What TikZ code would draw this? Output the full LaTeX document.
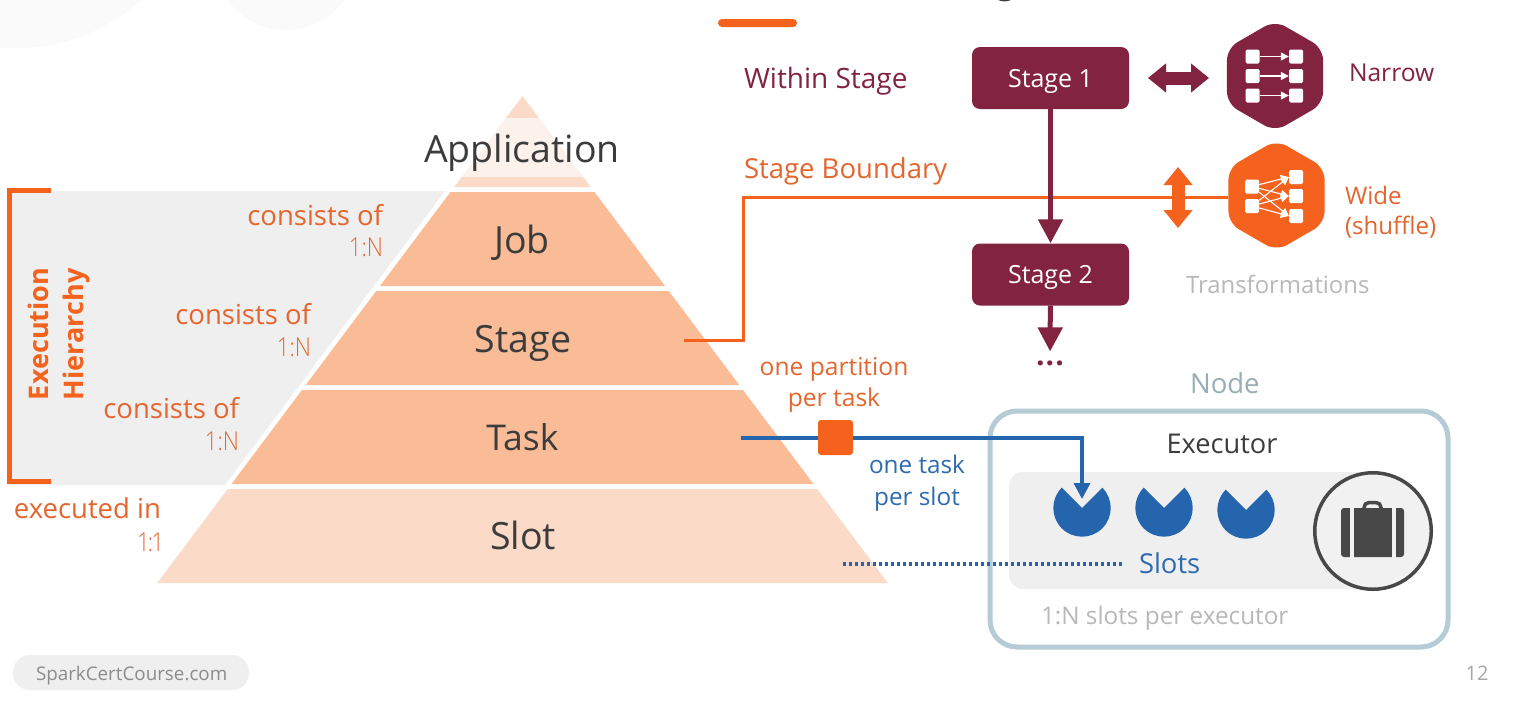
\documentclass[tikz,border=0pt]{standalone}
\usepackage{fontspec}
\setmainfont{Open Sans}
\newfontfamily\lightfont{Open Sans Light}[FakeStretch=0.86]
\usetikzlibrary{arrows.meta,shapes.geometric,calc}
\definecolor{wine}{HTML}{82233F}
\definecolor{orng}{HTML}{F4621E}
\definecolor{orngtxt}{HTML}{E4662E}
\definecolor{blu}{HTML}{2565AE}
\definecolor{blutxt}{HTML}{2E6BB0}
\definecolor{peach}{HTML}{F9BC97}
\definecolor{lpeach}{HTML}{FBDAC8}
\definecolor{apppeach}{HTML}{FDF1EB}
\definecolor{panel}{HTML}{EFEFEF}
\definecolor{ink}{HTML}{3C3C3C}
\definecolor{bagink}{HTML}{484848}
\definecolor{bagfill}{HTML}{F1F1F1}
\definecolor{nodeedge}{HTML}{B5CBD5}
\definecolor{faded}{HTML}{B8B8B8}
\newcommand{\fz}[1]{\fontsize{#1}{#1}\selectfont}
\newcommand{\pacman}[2]{\fill[blu] (#1,#2) -- +(20.3,-20.3) arc[start angle=45,end angle=-225,radius=28.7pt] -- cycle;}
\newcommand{\layer}[3]{\fill[#3] ({522.5-0.75*(#1-96)},#1) -- ({522.5+0.75*(#1-96)},#1) -- ({522.5+0.75*(#2-96)},#2) -- ({522.5-0.75*(#2-96)},#2) -- cycle;}
\tikzset{
  txt/.style={inner sep=0pt,outer sep=0pt},
  lbl/.style={txt,anchor=base east,text=orngtxt,font=\fz{27.5}},
  ratio/.style={txt,anchor=base east,text=orngtxt,font=\lightfont\fz{26}},
  pyr/.style={txt,anchor=base,text=ink,font=\fz{37.5}},
  stagebox/.style={draw=none,fill=wine,rounded corners=8pt,minimum width=157pt,minimum height=62pt,text=white,font=\fz{25},inner sep=0pt,text height=18pt,text depth=0pt},
  hexa/.style={regular polygon,regular polygon sides=6,shape border rotate=30,minimum size=111pt,inner sep=0pt,rounded corners=12pt,draw=none},
  sq/.style={fill=white,rounded corners=1.5pt,minimum size=14pt,inner sep=0pt,draw=none},
  warrow/.style={white,line width=1.4pt,-{Triangle[length=8pt,width=8pt]}},
  winearrow/.style={wine,line width=5pt,-{Triangle[length=24pt,width=24pt]}},
  fat/.style={line width=13pt,{Triangle[length=18pt,width=28pt]}-{Triangle[length=18pt,width=28pt]}},
}
\begin{document}
\begin{tikzpicture}[x=1pt,y=-1pt]
\useasboundingbox (0,0) rectangle (1522,707);
\clip (0,0) rectangle (1522,707);
\fill[white] (0,0) rectangle (1522,707);
% faint background discs and title remains
\fill[black!2] (17,-136) circle[radius=184pt];
\fill[black!2] (286,-41) circle[radius=71pt];
\fill[ink] (998,0) .. controls (1002,1.8) and (1007,1.8) .. (1011,0) -- cycle;
\fill[orng] (718,19) [rounded corners=4pt] rectangle (797,27);
% execution panel
\fill[panel] (8,191) -- (445,191) -- (225,485) -- (8,485) -- cycle;
\draw[orng,line width=5pt] (51,190.5) -- (9.5,190.5) -- (9.5,481) -- (51,481);
% pyramid
\layer{96}{118}{lpeach}
\layer{118}{177}{apppeach}
\layer{177}{187}{lpeach}
\layer{192}{286}{peach}
\layer{291}{385}{peach}
\layer{390}{484}{peach}
\layer{489}{583}{lpeach}
\node[pyr] (app) at (522,162) {Application};
\node[pyr] (job) at (522,253) {Job};
\node[pyr] (stage) at (523,352) {Stage};
\node[pyr,font=\fz{35.5}] (task) at (522.5,450) {Task};
\node[pyr] (slot) at (523,549) {Slot};
% side labels
\node[lbl] (c1) at (383,225) {consists of};
\node[ratio] (r1) at (383,256) {1:N};
\node[lbl] (c2) at (311,324) {consists of};
\node[ratio] (r2) at (311,356) {1:N};
\node[lbl] (c3) at (239,418) {consists of};
\node[ratio] (r3) at (239,450) {1:N};
\node[lbl] (c4) at (161,518) {executed in};
\node[ratio] (r4) at (164,551) {1\kern-2pt:\kern-2pt1};
\node[txt,rotate=90,anchor=base west,text=orng,font=\bfseries\fz{27}] (ex) at (48,400) {Execution};
\node[txt,rotate=90,anchor=base west,text=orng,font=\bfseries\fz{27}] (hi) at (83,400) {Hierarchy};
% stage boundary connector
\node[hexa,fill=orng] (wideh) at (1276.5,195.5) {};
\coordinate (sbstart) at (684,340);
\coordinate (sbcorner) at (743,197);
\draw[orng,line width=3pt] (sbstart) -| (sbcorner) -- (wideh.west |- sbcorner);
% stages
\node[stagebox] (s1) at (1050.5,78) {Stage 1};
\node[stagebox] (s2) at (1050.5,274.5) {Stage 2};
\node[txt,anchor=base,text=wine,font=\bfseries\fz{30}] (dots) at (1050,365) {.\kern1pt.\kern1pt.};
\draw[winearrow] (s1) -- (s2);
\draw[winearrow,shorten >=9pt] (s2) -- (dots);
\node[txt,anchor=base west,text=wine,font=\fz{28}] (within) at (744,88) {Within Stage};
\node[txt,anchor=base west,text=orngtxt,font=\fz{27.5}] (sbl) at (744,178) {Stage Boundary};
% narrow
\node[hexa,fill=wine] (narrowh) at (1275,76) {};
\coordinate (naL) at (1148,78);
\coordinate (naR) at (1209,78);
\draw[fat,wine] (naL) -- (naR);
\node[sq] (nl1) at (1252.5,56.5) {};
\node[sq] (nl2) at (1252.5,76) {};
\node[sq] (nl3) at (1252.5,95.5) {};
\node[sq] (nr1) at (1296,56.5) {};
\node[sq] (nr2) at (1296,76) {};
\node[sq] (nr3) at (1296,95.5) {};
\draw[warrow] (nl1) -- (nr1.west);
\draw[warrow] (nl2) -- (nr2.west);
\draw[warrow] (nl3) -- (nr3.west);
\node[txt,anchor=base west,text=wine,font=\fz{24.6}] (narrow) at (1349,81) {Narrow};
% wide
\coordinate (waT) at (1178,167);
\coordinate (waB) at (1178,228);
\draw[fat,orng] (waT) -- (waB);
\node[sq] (wl1) at (1252,186.5) {};
\node[sq] (wl2) at (1252,206) {};
\node[sq] (wr1) at (1296,177) {};
\node[sq] (wr2) at (1296,196) {};
\node[sq] (wr3) at (1296,216) {};
\foreach \a in {wl1,wl2}\foreach \b in {wr1,wr2,wr3}{\draw[warrow,line width=1.1pt] (\a) -- (\b.west);}
\node[txt,anchor=base west,text=orngtxt,font=\fz{24.1}] (wide) at (1345,204) {Wide};
\node[txt,anchor=base west,text=orngtxt,font=\fz{24.1}] (shuf) at (1345,234) {(shuffle)};
\node[txt,anchor=base west,text=faded,font=\fz{23.9}] (trans) at (1186,293) {Transformations};
% node box
\node[txt,anchor=base west,text=nodeedge!85!black,font=\fz{27.5}] (nodel) at (1190,393) {Node};
\draw[nodeedge,line width=5pt,rounded corners=27pt] (990,411) rectangle (1448,647);
\node[txt,anchor=base,text=ink,font=\fz{27.2}] (exec) at (1222,453) {Executor};
\fill[panel,rounded corners=14pt] (1009,472) rectangle (1390,589);
\node[circle,draw=bagink,line width=3.5pt,fill=bagfill,minimum size=116.5pt,inner sep=0pt] (bag) at (1373,531) {};
\fill[bagink,rounded corners=3pt] (1341,508) rectangle (1404,557);
\fill[bagfill] (1350,505) rectangle (1354,560);
\fill[bagfill] (1392,505) rectangle (1396,560);
\draw[bagink,line width=3.5pt,rounded corners=5pt] (1364,509) -- (1364,502.5) -- (1381,502.5) -- (1381,509);
\pacman{1082}{508}
\pacman{1164}{508}
\pacman{1246}{510}
\coordinate (slotA) at (1082,499);
\node[txt,anchor=base west,text=blutxt,font=\fz{27.4}] (slotsl) at (1139,573) {Slots};
\node[txt,anchor=base west,text=faded,font=\fz{24.3}] (perex) at (1041,624) {1:N slots per executor};
% blue connectors
\coordinate (taskstart) at (741,438);
\draw[blu,line width=3.5pt,-{Triangle[length=16pt,width=16pt]}] (taskstart) -| (slotA);
\node[fill=orng,rounded corners=3pt,minimum size=35pt,inner sep=0pt] (part) at (835.5,437.5) {};
\coordinate (dotstart) at (843,564);
\draw[blu,line width=3.5pt,dash pattern=on 3.2pt off 2.8pt,shorten >=16pt] (dotstart) -- (slotsl.west |- dotstart);
\node[txt,anchor=base,text=orngtxt,font=\fz{24.6}] (p1) at (834,375) {one partition};
\node[txt,anchor=base,text=orngtxt,font=\fz{24.6}] (p2) at (834,406) {per task};
\node[txt,anchor=base,text=blutxt,font=\fz{24.3}] (t1) at (917,473) {one task};
\node[txt,anchor=base,text=blutxt,font=\fz{24.3}] (t2) at (917,505) {per slot};
% footer
\fill[panel,rounded corners=17pt] (13,655) rectangle (249,690);
\node[txt,anchor=base west,text=black!45,font=\fz{18.8}] (foot) at (36,680) {SparkCertCourse.com};
\node[txt,anchor=base,text=black!35,font=\fz{20}] (pg) at (1477,680) {12};
\end{tikzpicture}
\end{document}
